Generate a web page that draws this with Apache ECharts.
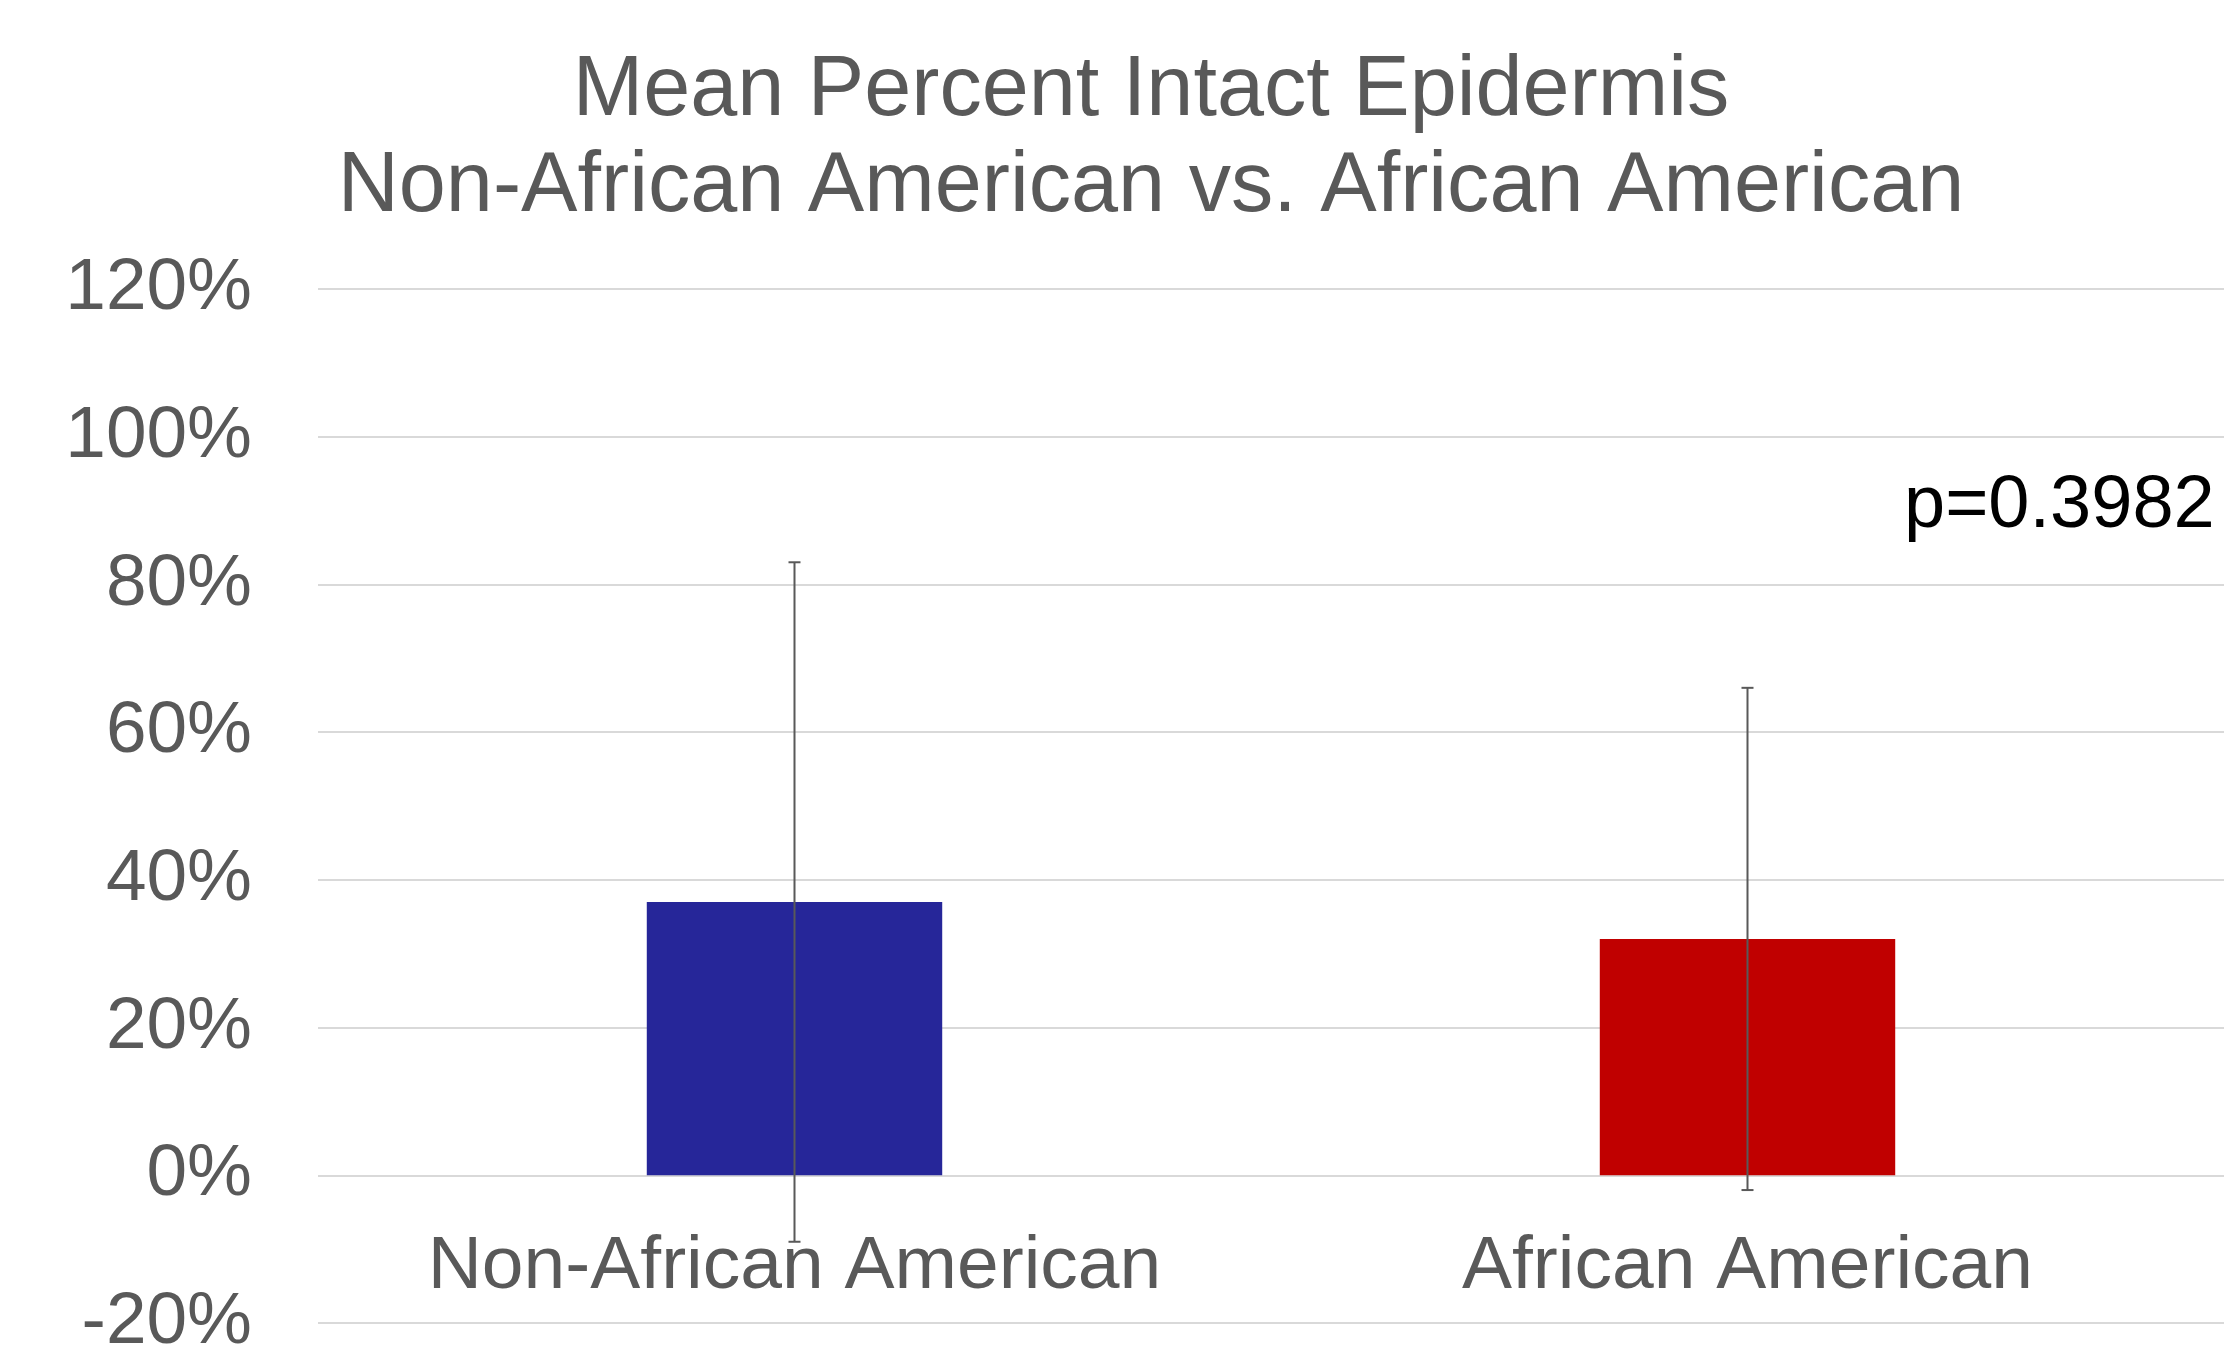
<!DOCTYPE html>
<html>
<head>
<meta charset="utf-8">
<script src="https://cdn.jsdelivr.net/npm/echarts@6/dist/echarts.min.js"></script>
<style>
  html, body { margin: 0; padding: 0; background: #fff; }
  #chart { width: 2224px; height: 1348px; }
</style>
</head>
<body>
<div id="chart"></div>
<script>
// data
var categories = ['Non-African American', 'African American']
var meanValues = [37, 32]
var errorValues = [46, 34]
var barColors = ['#262699', '#C00000']
var pValueText = 'p=0.3982'

var myChart = echarts.init(document.getElementById('chart'))

// error bar data: [index, low, high]
var errorData = categories.map(function (c, i) {
  return [i, meanValues[i] - errorValues[i], meanValues[i] + errorValues[i]]
})

var font = '"Liberation Sans", Arial, sans-serif'

var option = {
  backgroundColor: '#fff',
  animation: false,
  title: {
    text: 'Mean Percent Intact Epidermis\nNon-African American vs. African American',
    left: 1146,
    top: 39,
    textAlign: 'center',
    textStyle: {
      color: '#595959',
      fontFamily: font,
      fontWeight: 'normal',
      fontSize: 84.6,
      lineHeight: 96
    }
  },
  grid: {
    left: 318,
    right: 0,
    top: 289,
    bottom: 25,
    outerBoundsMode: 'none',
    containLabel: false
  },
  xAxis: {
    type: 'category',
    data: categories,
    // the category labels sit under the 0% line, not at the bottom
    offset: -147.7,
    axisLine: { show: false, onZero: false },
    axisTick: { show: false },
    axisLabel: {
      interval: 0,
      hideOverlap: false,
      color: '#595959',
      fontFamily: font,
      fontSize: 75,
      margin: 55
    }
  },
  yAxis: {
    type: 'value',
    min: -20,
    max: 120,
    interval: 20,
    axisLine: { show: false },
    axisTick: { show: false },
    splitLine: { lineStyle: { color: '#d9d9d9', width: 2 } },
    axisLabel: {
      color: '#595959',
      fontFamily: font,
      fontSize: 73,
      margin: 66,
      formatter: '{value}%'
    }
  },
  series: [
    {
      type: 'bar',
      barWidth: '31%',
      data: meanValues.map(function (v, i) {
        return { value: v, itemStyle: { color: barColors[i] } }
      }),
      z: 2
    },
    {
      type: 'custom',
      z: 5,
      data: errorData,
      renderItem: function (params, api) {
        var x = api.value(0)
        var lo = api.coord([x, api.value(1)])
        var hi = api.coord([x, api.value(2)])
        var half = 6
        var style = { stroke: '#595959', lineWidth: 2 }
        return {
          type: 'group',
          children: [
            { type: 'line', shape: { x1: hi[0], y1: hi[1], x2: lo[0], y2: lo[1] }, style: style },
            { type: 'line', shape: { x1: hi[0] - half, y1: hi[1], x2: hi[0] + half, y2: hi[1] }, style: style },
            { type: 'line', shape: { x1: lo[0] - half, y1: lo[1], x2: lo[0] + half, y2: lo[1] }, style: style }
          ]
        }
      }
    }
  ],
  graphic: [
    {
      type: 'text',
      left: 1904,
      top: 470,
      style: {
        text: pValueText,
        fill: '#000',
        font: '74px "Liberation Sans", Arial, sans-serif'
      }
    }
  ]
}

myChart.setOption(option)
</script>
</body>
</html>
